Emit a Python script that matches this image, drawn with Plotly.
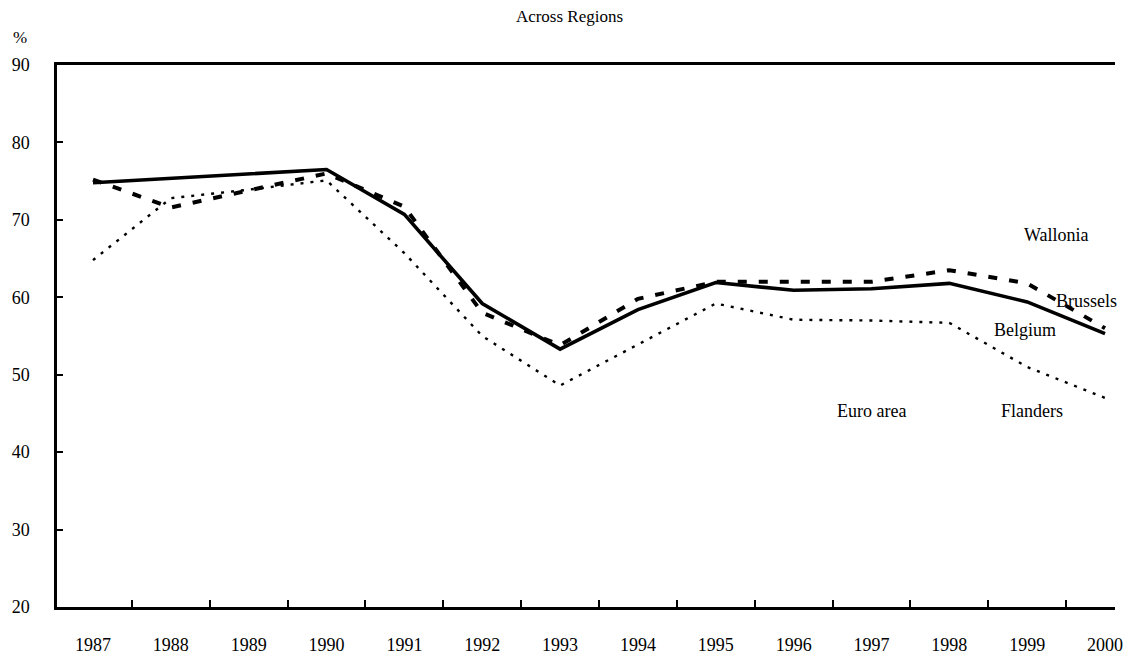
import plotly.graph_objects as go

years = list(range(1987, 2001))

belgium = [74.8, 75.4, 75.9, 76.5, 70.7, 59.2, 53.3, 58.4, 61.9, 60.9, 61.1, 61.8, 59.4, 55.3]
wallonia = [75.2, 71.6, 73.8, 76.0, 71.7, 58.0, 53.8, 59.8, 62.0, 62.0, 62.0, 63.5, 61.8, 56.0]
flanders = [64.8, 72.8, 73.9, 75.1, 65.7, 55.0, 48.6, 53.9, 59.2, 57.1, 57.0, 56.7, 51.0, 47.0]

series_labels = ["Wallonia", "Brussels", "Belgium", "Euro area", "Flanders"]
label_x = [1999.38, 1999.76, 1998.97, 1997.0, 1999.06]
label_y = [68.0, 59.5, 55.8, 45.3, 45.3]

y_ticks = [20, 30, 40, 50, 60, 70, 80, 90]

SERIF = "Liberation Serif, Times New Roman, serif"

fig = go.Figure()
fig.add_trace(go.Scatter(
    x=years, y=flanders, mode="lines", name="Flanders",
    line=dict(color="black", width=2.4, dash="3px,7px"),
))
fig.add_trace(go.Scatter(
    x=years, y=wallonia, mode="lines", name="Wallonia",
    line=dict(color="black", width=4, dash="9px,12px"),
))
fig.add_trace(go.Scatter(
    x=years, y=belgium, mode="lines", name="Belgium",
    line=dict(color="black", width=3.6),
))

for txt, lx, ly in zip(series_labels, label_x, label_y):
    fig.add_annotation(x=lx, y=ly, text=txt, showarrow=False,
                       font=dict(family=SERIF, size=18, color="black"))

# unit marker above the value axis
fig.add_annotation(xref="paper", yref="paper", x=-0.035, y=1.05,
                   xanchor="center", yanchor="middle", text="%",
                   showarrow=False, font=dict(family=SERIF, size=17, color="black"))

fig.update_layout(
    width=1139, height=667,
    margin=dict(l=57, r=24, t=65, b=49),
    paper_bgcolor="white", plot_bgcolor="white",
    showlegend=False,
    title=dict(text="Across Regions", x=0.5, xanchor="center", y=0.976, yanchor="middle",
               font=dict(family=SERIF, size=17, color="black")),
    font=dict(family=SERIF, size=17, color="black"),
)
fig.update_xaxes(
    range=[1986.5376, 2000.128],
    tickmode="array", tickvals=years, ticktext=[str(y) for y in years],
    ticks="", ticklabelstandoff=20,
    minor=dict(tickmode="linear", tick0=1986.5, dtick=1, ticks="inside", ticklen=7,
               tickwidth=2, tickcolor="black"),
    showline=True, linecolor="black", linewidth=2.5, mirror=True,
    showgrid=False, zeroline=False,
    tickfont=dict(family=SERIF, size=18, color="black"),
)
fig.update_yaxes(
    range=[20, 90], tickmode="array", tickvals=y_ticks,
    ticks="inside", ticklen=6, tickwidth=2, tickcolor="black",
    ticklabelstandoff=21,
    showline=True, linecolor="black", linewidth=2.5,
    showgrid=False, zeroline=False,
    tickfont=dict(family=SERIF, size=18, color="black"),
)

fig.write_html("out.html")
